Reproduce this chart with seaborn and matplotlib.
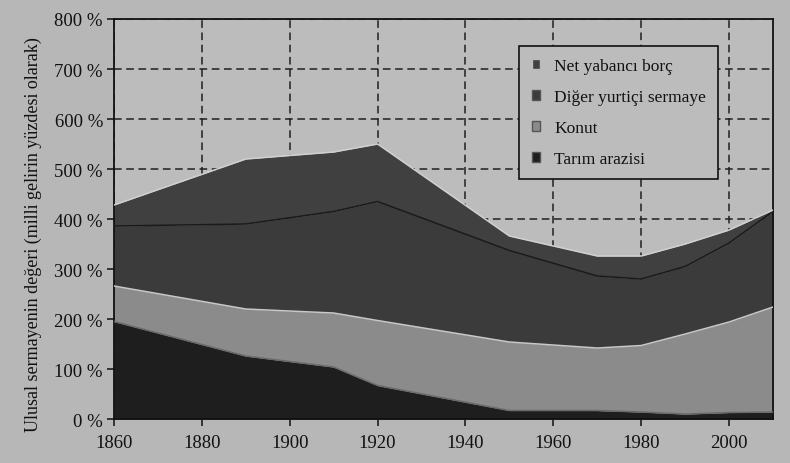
import matplotlib
matplotlib.use("Agg")
import matplotlib.pyplot as plt
from matplotlib.patches import Patch
from matplotlib.ticker import FuncFormatter
import seaborn as sns
import pandas as pd

# Değerler (milli gelirin yüzdesi olarak)
years = [1860, 1890, 1910, 1920, 1950, 1970, 1980, 1990, 2000, 2010]
tarim = [195, 126, 104, 67, 17, 17, 14, 10, 13, 14]
konut = [71, 94, 108, 130, 137, 125, 133, 160, 181, 210]
diger = [120, 170, 203, 238, 183, 144, 133, 135, 158, 191]
yabanci = [42, 130, 119, 115, 29, 40, 46, 45, 26, 3]

labels = ["Tarım arazisi", "Konut", "Diğer yurtiçi sermaye", "Net yabancı borç"]
y_ticks = list(range(0, 801, 100))
x_ticks = list(range(1860, 2001, 20))

df = pd.DataFrame({"yil": years, labels[0]: tarim, labels[1]: konut,
                   labels[2]: diger, labels[3]: yabanci})

sns.set_style("ticks")
plt.rcParams["font.family"] = ["Liberation Serif", "DejaVu Serif"]

bg = "#b7b7b7"
colors = ["#1e1e1e", "#8b8b8b", "#3b3b3b", "#404040"]
edges = ["#6a6a6a", "#c8c8c8", "#1a1a1a", "#d0d0d0"]

fig = plt.figure(figsize=(7.9, 4.64), dpi=100, facecolor=bg)
ax = fig.add_axes([0.1443, 0.0948, 0.8342, 0.8621], facecolor="#bcbcbc")

ax.stackplot(df["yil"], *[df[c] for c in labels], colors=colors,
             linewidth=0, zorder=2)

# katman sınır çizgileri
cum = df[labels].cumsum(axis=1)
for c, ec in zip(labels, edges):
    ax.plot(df["yil"], cum[c], color=ec, lw=1.1, zorder=3)

ax.set_xlim(1860, 2010)
ax.set_ylim(0, 800)
ax.set_xticks(x_ticks)
ax.set_yticks(y_ticks)
ax.yaxis.set_major_formatter(FuncFormatter(lambda v, p: f"{int(v)} %"))
ax.grid(True, color="#202020", linestyle=(0, (5, 3)), linewidth=1.1, zorder=1)
ax.set_axisbelow(True)

for s in ax.spines.values():
    s.set_visible(True)
    s.set_color("#111111")
    s.set_linewidth(1.3)

ax.tick_params(axis="both", direction="out", length=5, width=1.1,
               colors="#111111", labelsize=13.5, pad=3)
ax.tick_params(axis="x", pad=6)
ax.set_ylabel("Ulusal sermayenin değeri (milli gelirin yüzdesi olarak)",
              fontsize=13, color="#111111", labelpad=6)
ax.yaxis.set_label_coords(-0.11, 0.4625)

handles = [Patch(facecolor=colors[i], edgecolor="#555555" if i != 3 else "#bbbbbb")
           for i in [3, 2, 1, 0]]
leg = ax.legend(handles, [labels[i] for i in [3, 2, 1, 0]],
                loc="upper left", bbox_to_anchor=(0.6146, 0.9325),
                borderaxespad=0, frameon=True, fancybox=False,
                facecolor="#bcbcbc", edgecolor="#111111", framealpha=1,
                fontsize=12.5, handlelength=0.5, handleheight=0.5,
                handletextpad=0.8, labelspacing=0.85, borderpad=0.72)
leg.get_frame().set_linewidth(1.2)
leg.set_zorder(5)
for t in leg.get_texts():
    t.set_color("#111111")

fig.savefig("out.png", dpi=100, facecolor=bg)
